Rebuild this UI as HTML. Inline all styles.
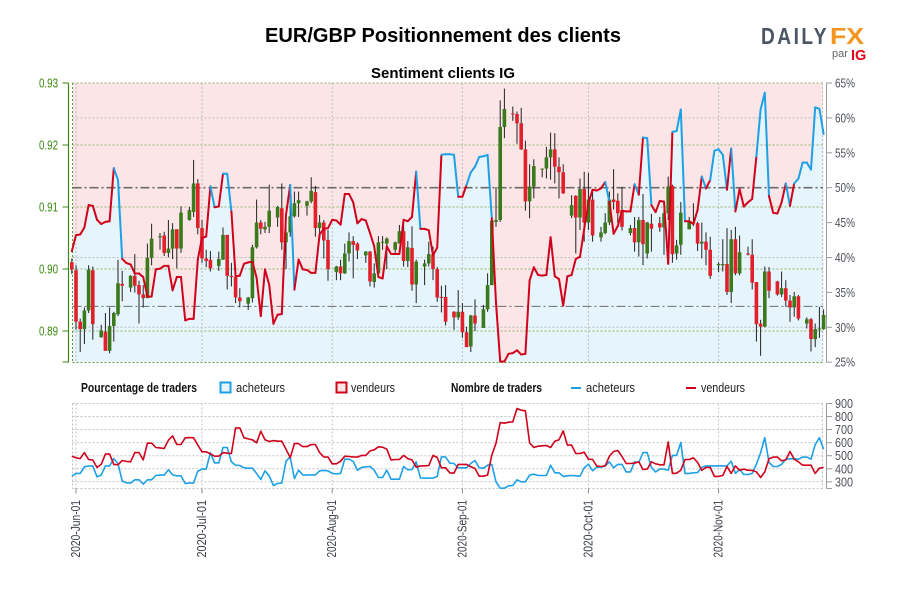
<!DOCTYPE html>
<html lang="fr">
<head>
<meta charset="utf-8">
<title>EUR/GBP Positionnement des clients</title>
<style>
html,body{margin:0;padding:0;background:#fff;width:900px;height:600px;overflow:hidden}
svg{display:block}
text{font-family:"Liberation Sans Narrow","Liberation Sans",sans-serif}
.b{font-family:"Liberation Sans",sans-serif;font-weight:bold;fill:#000}
.logo{font-family:"Liberation Sans",sans-serif}
</style>
</head>
<body>
<svg id="chart" xmlns="http://www.w3.org/2000/svg" width="900" height="600" viewBox="0 0 900 600">
  <rect width="900" height="600" fill="#fff"/>
  <text class="b" x="443" y="42" text-anchor="middle" font-size="20" textLength="356" lengthAdjust="spacingAndGlyphs">EUR/GBP Positionnement des clients</text>
  <text class="b" x="443" y="78" text-anchor="middle" font-size="15" textLength="144" lengthAdjust="spacingAndGlyphs">Sentiment clients IG</text>

  <g>
    <text class="logo" x="761" y="44" font-size="23" font-weight="bold" fill="#4b5563" textLength="68" lengthAdjust="spacingAndGlyphs" letter-spacing="3">DAILY</text>
    <text class="logo" x="830" y="44" font-size="23" font-weight="bold" fill="#f7941d" textLength="34" lengthAdjust="spacingAndGlyphs">FX</text>
    <text class="logo" x="832" y="57" font-size="11" fill="#666">par</text>
    <text class="logo" x="851" y="60" font-size="14.5" font-weight="bold" fill="#e2001a">IG</text>
  </g>

  <g id="price-panel"></g>
  <g id="count-panel"></g>

  <g font-size="12.5" fill="#222">
    <text x="81" y="392" font-weight="bold" fill="#111" textLength="116" lengthAdjust="spacingAndGlyphs">Pourcentage de traders</text>
    <rect x="220.5" y="382.5" width="10" height="10" fill="#e6f4fc" stroke="#1ea0e6" stroke-width="2"/>
    <text x="236" y="392" textLength="49" lengthAdjust="spacingAndGlyphs">acheteurs</text>
    <rect x="336.5" y="382.5" width="10" height="10" fill="#fbe5e6" stroke="#d0021b" stroke-width="2"/>
    <text x="351" y="392" textLength="44" lengthAdjust="spacingAndGlyphs">vendeurs</text>
    <text x="451" y="392" font-weight="bold" fill="#111" textLength="91" lengthAdjust="spacingAndGlyphs">Nombre de traders</text>
    <line x1="571" x2="581" y1="388" y2="388" stroke="#1ea0e6" stroke-width="2"/>
    <text x="586" y="392" textLength="49" lengthAdjust="spacingAndGlyphs">acheteurs</text>
    <line x1="686" x2="696" y1="388" y2="388" stroke="#d0021b" stroke-width="2"/>
    <text x="701" y="392" textLength="44" lengthAdjust="spacingAndGlyphs">vendeurs</text>
  </g>
</svg>

<script>
var candleOpen=[.9011,.8998,.8915,.8903,.8933,.8998,.8890,.8899,.8868,.8908,.8927,.8976,.8970,.8989,.8974,.8959,.8953,.9018,.9051,.9054,.9026,.9033,.9064,.9033,.9079,.9092,.9138,.9066,.9017,.9015,.9005,.9015,.9055,.8989,.8987,.8954,.8944,.8953,.9035,.9075,.9064,.9068,.9083,.9098,.9043,.9059,.9085,.9106,.9102,.9109,.9124,.9066,.9075,.9047,.8995,.9004,.8993,.9025,.9045,.9041,.9022,.9028,.8979,.8993,.9043,.9041,.9031,.9041,.9061,.9013,.9034,.8975,.9004,.9009,.9023,.9000,.8955,.8955,.8931,.8922,.8931,.8898,.8875,.8925,.8905,.8935,.8974,.9076,.9079,.9229,.9251,.9250,.9235,.9193,.9109,.9133,.9161,.9162,.9180,.9193,.9165,.9156,.9086,.9118,.9083,.9129,.9075,.9112,.9051,.9058,.9075,.9112,.9110,.9095,.9058,.9066,.9043,.9079,.9025,.9073,.9074,.9067,.9090,.9134,.9025,.9039,.9064,.9076,.9074,.9041,.9044,.9031,.9006,.9006,.9008,.8963,.9048,.8993,.9025,.9023,.8979,.8912,.8907,.8996,.8980,.8959,.8969,.8949,.8938,.8956,.8912,.8919,.8887,.8903,.8903];
var candleHigh=[.9017,.9006,.8920,.8938,.9006,.9004,.8910,.8929,.8938,.8931,.9015,.8997,.8990,.9024,.8981,.8974,.9041,.9073,.9058,.9060,.9079,.9074,.9064,.9101,.9100,.9176,.9145,.9079,.9031,.9029,.9028,.9067,.9055,.9010,.8989,.8969,.8955,.9039,.9112,.9079,.9076,.9136,.9102,.9138,.9074,.9136,.9125,.9125,.9110,.9148,.9134,.9087,.9079,.9063,.9005,.9015,.9041,.9059,.9053,.9043,.9029,.9029,.9009,.9053,.9053,.9051,.9044,.9071,.9076,.9045,.9069,.9015,.9015,.9044,.9036,.9003,.8973,.8974,.8932,.8966,.8945,.8907,.8926,.8951,.8942,.8993,.9082,.9132,.9272,.9291,.9262,.9254,.9260,.9207,.9169,.9177,.9162,.9197,.9220,.9219,.9180,.9169,.9119,.9119,.9146,.9157,.9155,.9125,.9068,.9090,.9125,.9161,.9122,.9132,.9071,.9084,.9084,.9121,.9076,.9089,.9084,.9106,.9149,.9136,.9047,.9108,.9084,.9106,.9076,.9075,.9059,.9052,.9011,.9048,.9066,.9063,.9068,.9054,.9036,.9048,.8979,.8918,.9004,.9003,.8981,.8996,.8982,.8958,.8963,.8958,.8922,.8921,.8912,.8939,.8935];
var candleLow=[.8992,.8902,.8866,.8879,.8929,.8886,.8889,.8868,.8864,.8883,.8924,.8948,.8963,.8962,.8912,.8938,.8953,.9006,.9031,.9021,.9019,.9016,.9001,.9026,.9078,.9084,.9056,.9010,.9003,.8996,.8997,.9015,.8967,.8972,.8945,.8938,.8934,.8946,.9033,.9056,.9058,.9058,.9068,.9031,.9000,.9052,.9083,.9084,.9086,.9106,.9052,.9049,.9017,.8981,.8982,.8982,.8992,.9012,.8985,.9016,.9010,.8972,.8970,.8993,.9031,.9000,.9024,.9041,.9004,.9003,.8965,.8945,.8974,.9004,.8982,.8947,.8930,.8909,.8902,.8918,.8889,.8874,.8866,.8900,.8905,.8931,.8974,.9068,.9076,.9211,.9239,.9202,.9192,.9094,.9082,.9114,.9148,.9146,.9144,.9138,.9114,.9121,.9082,.9025,.9063,.9044,.9063,.9044,.9044,.9056,.9071,.9096,.9074,.9062,.9054,.9028,.9020,.9006,.9017,.9028,.9060,.9023,.9079,.9010,.9015,.9023,.9064,.9069,.9029,.9017,.9006,.8984,.8995,.8996,.8958,.8945,.8990,.8990,.9022,.8967,.8883,.8860,.8906,.8953,.8957,.8955,.8939,.8915,.8923,.8917,.8904,.8867,.8874,.8889,.8902];
var candleClose=[.8999,.8915,.8903,.8933,.8999,.8911,.8901,.8868,.8908,.8929,.8977,.8973,.8989,.8973,.8959,.8953,.9018,.9049,.9053,.9026,.9033,.9064,.9033,.9091,.9095,.9138,.9066,.9017,.9013,.9001,.9016,.9055,.8989,.8987,.8954,.8948,.8954,.9035,.9075,.9065,.9068,.9094,.9100,.9043,.9059,.9085,.9106,.9111,.9109,.9126,.9066,.9075,.9046,.9000,.9004,.8993,.9025,.9045,.9039,.9030,.9028,.8980,.8993,.9043,.9044,.9049,.9043,.9061,.9013,.9035,.8975,.9012,.9009,.9024,.9000,.8954,.8954,.8915,.8922,.8931,.8898,.8874,.8925,.8912,.8935,.8974,.9078,.9079,.9229,.9258,.9250,.9235,.9193,.9109,.9133,.9166,.9162,.9180,.9193,.9165,.9156,.9122,.9103,.9083,.9129,.9075,.9112,.9054,.9059,.9075,.9112,.9108,.9090,.9068,.9066,.9043,.9079,.9040,.9075,.9065,.9067,.9090,.9133,.9024,.9038,.9091,.9077,.9074,.9041,.9044,.9031,.8989,.9008,.9008,.8963,.9048,.8993,.9027,.9023,.8978,.8911,.8907,.8996,.8965,.8959,.8969,.8949,.8938,.8956,.8920,.8919,.8887,.8903,.8904,.8926];
var buyerPercent=[40.9,43.2,43.3,44.3,47.5,47.4,45.4,44.8,45.1,45.2,52.8,51.1,39.8,39.2,39.0,37.7,37.7,37.2,34.4,34.4,38.3,38.4,38.8,38.8,35.3,37.2,37.2,31.0,31.2,31.2,39.7,42.8,43.0,50.2,47.2,47.3,52.0,52.0,46.6,37.3,37.4,39.1,39.3,39.4,37.1,31.6,38.3,36.1,30.5,31.8,31.9,46.1,50.4,35.4,39.7,38.3,38.2,37.8,37.8,43.3,44.1,44.2,45.4,45.3,44.7,49.1,49.1,47.9,44.9,45.5,45.3,43.5,41.6,37.2,37.0,41.6,40.5,40.5,40.5,45.4,45.2,45.8,52.3,44.1,44.1,43.9,40.3,41.4,54.7,54.8,54.8,54.7,48.7,48.7,50.4,52.2,53.0,54.4,54.5,54.7,45.6,33.5,25.1,25.1,26.2,26.3,26.7,26.1,26.2,36.7,38.6,37.5,37.4,37.5,42.9,37.3,36.9,33.1,37.3,37.5,39.8,40.1,44.1,47.8,49.7,49.6,49.9,50.8,48.0,43.4,44.5,46.7,46.6,46.6,50.5,49.0,57.2,57.1,47.5,46.5,48.1,48.0,39.1,58.0,58.1,61.2,45.2,45.2,44.8,46.8,51.6,49.9,51.1,55.3,55.5,54.7,49.7,55.6,46.6,49.8,47.3,47.9,48.4,54.5,61.2,63.6,48.8,46.4,46.3,47.9,50.6,47.4,50.6,51.3,53.6,53.6,52.6,61.5,61.3,57.7];
var buyerCount=[343,364,364,415,422,422,338,351,422,422,478,440,305,292,290,315,315,282,315,315,348,351,351,392,353,346,346,287,290,290,381,397,397,522,445,445,563,563,453,427,425,407,404,404,364,318,384,346,272,287,290,458,491,325,389,353,351,353,353,384,387,384,364,361,364,473,473,456,389,410,415,417,389,333,333,389,320,320,320,417,392,394,453,330,328,328,328,341,491,491,443,440,407,407,407,440,463,407,404,427,433,300,251,251,269,272,315,300,300,351,358,348,348,348,427,369,369,341,346,348,346,343,407,435,384,412,412,422,453,407,433,433,376,376,453,448,524,524,410,376,397,397,389,502,502,601,364,364,369,371,410,422,422,422,422,422,422,458,364,394,356,356,364,435,524,639,448,417,417,433,473,476,476,473,489,489,473,586,637,550];
var sellerCount=[496,484,478,524,471,466,410,433,512,512,433,430,463,456,453,524,524,468,596,596,563,560,555,619,652,586,586,637,639,637,581,530,530,514,496,496,524,519,517,713,713,637,629,622,599,688,622,609,616,611,611,550,484,593,593,570,570,586,586,524,491,489,438,438,458,496,494,491,489,502,502,537,545,568,565,550,468,471,471,502,478,468,412,422,422,425,502,486,407,407,369,366,433,433,433,415,402,343,343,351,504,596,754,749,757,759,862,849,844,599,563,573,576,578,563,611,622,690,581,581,517,517,527,473,471,420,417,422,496,532,540,494,440,440,443,453,394,397,453,438,430,430,606,364,366,389,471,471,484,448,387,410,410,341,341,348,417,364,422,389,397,389,387,376,333,376,476,489,489,461,468,532,473,453,427,427,427,364,404,410];
var dateLabels=['2020-Jun-01','2020-Jul-01','2020-Aug-01','2020-Sep-01','2020-Oct-01','2020-Nov-01'];
var dateDays=[0,30,61,92,122,153];
var priceTicks=[0.93,0.92,0.91,0.90,0.89];
var percentTicks=[65,60,55,50,45,40,35,30,25];
var percentGrid=[60,40,30];
var percentRefs=[50,33];
var countTicks=[900,800,700,600,500,400,300];

var NS='http://www.w3.org/2000/svg';
var PL=72.5,PR=823,PT=83,PB=362.5,CT=403.5,CB=488.5;
function dayX(d){return 76+4.2*d;}
function priceY(p){return 83+(0.93-p)*6200;}
function pctY(v){return 83+(65-v)*6.98;}
function countY(v){return 403.5+(900-v)*0.1305;}
function mk(parent,tag,attrs,txt){
  var e=document.createElementNS(NS,tag);
  for(var k in attrs){e.setAttribute(k,attrs[k]);}
  if(txt!==undefined){e.textContent=txt;}
  parent.appendChild(e);
  return e;
}
var P=document.getElementById('price-panel');
var C=document.getElementById('count-panel');

/* backgrounds */
var bgSell=mk(P,'rect',{x:PL,y:PT,width:PR-PL,height:PB-PT,fill:'#fbe5e6'});


var areaPts=[dayX(-1)+','+PB];
buyerPercent.forEach(function(v,i){areaPts.push(dayX(i-1).toFixed(1)+','+pctY(v).toFixed(1));});
areaPts.push(dayX(buyerPercent.length-2).toFixed(1)+','+PB);
var bgBuy=mk(P,'polygon',{points:areaPts.join(' '),fill:'#e6f4fc'});



/* price panel grid */
percentGrid.forEach(function(v){
  var g=mk(P,'line',{x1:PL,x2:PR,y1:pctY(v),y2:pctY(v),stroke:'#bdbdbd','stroke-width':1,'stroke-dasharray':'2 2'});
  
  
});
priceTicks.forEach(function(v){
  var g=mk(P,'line',{x1:PL,x2:PR,y1:priceY(v),y2:priceY(v),stroke:'#8fb56f','stroke-width':1,'stroke-dasharray':'2 2'});
  
  
});
dateDays.forEach(function(d){
  var g=mk(P,'line',{x1:dayX(d),x2:dayX(d),y1:PT,y2:PB,stroke:'#bdbdbd','stroke-width':1,'stroke-dasharray':'2 2'});
  
  
});
var bot=mk(P,'line',{x1:PL,x2:PR,y1:PB,y2:PB,stroke:'#5f9a3a','stroke-width':1,'stroke-dasharray':'2 2'});


var lf=mk(P,'line',{x1:PL,x2:PL,y1:PT,y2:PB,stroke:'#5f9a3a','stroke-width':1,'stroke-dasharray':'2 2'});


var rf=mk(P,'line',{x1:PR-0.5,x2:PR-0.5,y1:PT,y2:PB,stroke:'#bdbdbd','stroke-width':1,'stroke-dasharray':'2 2'});


percentRefs.forEach(function(v,i){
  var g=mk(P,'line',{x1:PL,x2:PR,y1:pctY(v),y2:pctY(v),stroke:'#6b6b6b','stroke-width':i===0?1.6:1,'stroke-dasharray':'9 3 2 3'});
  
  
});

/* candles: every day except Saturdays, starting the Sunday before Jun 1 */
candleOpen.forEach(function(o,i){
  var d=i-1+Math.floor(i/6);
  var x=dayX(d),c=candleClose[i];
  var up=c>=o;
  var g=mk(P,'g',{});
  
  
  mk(g,'line',{x1:x,x2:x,y1:priceY(candleHigh[i]),y2:priceY(candleLow[i]),stroke:'#222','stroke-width':1});
  var top=priceY(Math.max(o,c)),h=Math.max(1,priceY(Math.min(o,c))-top);
  mk(g,'rect',{x:x-1.8,y:top,width:3.6,height:h,fill:up?'#3b7a1c':'#e1202b'});
});

/* sentiment line: blue while the segment starts above 50 %, otherwise red */
buyerPercent.forEach(function(v,i){
  if(i===0){return;}
  var prev=buyerPercent[i-1];
  var s=mk(P,'line',{x1:dayX(i-2),y1:pctY(prev),x2:dayX(i-1),y2:pctY(v),stroke:prev>50?'#1ea0e6':'#d0021b','stroke-width':2,'stroke-linecap':'round'});
  
  
});

/* left axis */
var la=mk(P,'line',{x1:68.5,x2:68.5,y1:PT,y2:PB,stroke:'#3a8a12','stroke-width':1.2});


priceTicks.concat([0.885]).forEach(function(v){
  var t=mk(P,'line',{x1:62.5,x2:68.5,y1:priceY(v),y2:priceY(v),stroke:'#3a8a12','stroke-width':1});
  
  
});
priceTicks.forEach(function(v){
  var t=mk(P,'text',{x:58,y:priceY(v)+4.5,'text-anchor':'end','font-size':13,fill:'#3a8a12',textLength:19,lengthAdjust:'spacingAndGlyphs'},v.toFixed(2));
  
  
});

/* right axis top */
var ra=mk(P,'line',{x1:826.5,x2:826.5,y1:PT,y2:PB,stroke:'#9a9a9a','stroke-width':1});


percentTicks.forEach(function(v){
  var t=mk(P,'line',{x1:826.5,x2:832,y1:pctY(v),y2:pctY(v),stroke:'#9a9a9a','stroke-width':1});
  
  
  var l=mk(P,'text',{x:835,y:pctY(v)+4.5,'font-size':13,fill:'#4a4f57',textLength:20,lengthAdjust:'spacingAndGlyphs'},v+'%');
  
  
});

/* count panel */
countTicks.forEach(function(v){
  var g=mk(C,'line',{x1:PL,x2:PR,y1:countY(v),y2:countY(v),stroke:'#c4c4c4','stroke-width':1,'stroke-dasharray':'2 2'});
  
  
  var t=mk(C,'line',{x1:826.5,x2:832,y1:countY(v),y2:countY(v),stroke:'#9a9a9a','stroke-width':1});
  
  
  var l=mk(C,'text',{x:835,y:countY(v)+4.5,'font-size':13,fill:'#4a4f57',textLength:18,lengthAdjust:'spacingAndGlyphs'},String(v));
  
  
});
var cb=mk(C,'line',{x1:PL,x2:PR,y1:CB,y2:CB,stroke:'#c4c4c4','stroke-width':1,'stroke-dasharray':'2 2'});


[PL,PR-0.5].forEach(function(x){
  var e=mk(C,'line',{x1:x,x2:x,y1:CT,y2:CB,stroke:'#bdbdbd','stroke-width':1,'stroke-dasharray':'2 2'});
  
  
});
var ca=mk(C,'line',{x1:826.5,x2:826.5,y1:CT,y2:CB,stroke:'#9a9a9a','stroke-width':1});


var cat=mk(C,'line',{x1:826.5,x2:832,y1:CB,y2:CB,stroke:'#9a9a9a','stroke-width':1});



dateDays.forEach(function(d,i){
  var x=dayX(d);
  var g=mk(C,'line',{x1:x,x2:x,y1:CT,y2:CB,stroke:'#c4c4c4','stroke-width':1,'stroke-dasharray':'2 2'});
  
  
  var t=mk(C,'line',{x1:x,x2:x,y1:CB,y2:CB+5,stroke:'#8a8a8a','stroke-width':1});
  
  
  var l=mk(C,'text',{x:0,y:0,transform:'translate('+(x+4)+',557.5) rotate(-90)','font-size':13,fill:'#3c4048',textLength:57.5,lengthAdjust:'spacingAndGlyphs'},dateLabels[i]);
  
  
});

function countPoints(arr){
  return arr.map(function(v,i){return dayX(i-1).toFixed(1)+','+countY(v).toFixed(1);}).join(' ');
}
var buyLine=mk(C,'polyline',{points:countPoints(buyerCount),fill:'none',stroke:'#1ea0e6','stroke-width':1.6,'stroke-linejoin':'round'});


var sellLine=mk(C,'polyline',{points:countPoints(sellerCount),fill:'none',stroke:'#d0021b','stroke-width':1.6,'stroke-linejoin':'round'});


</script>
</body>
</html>
